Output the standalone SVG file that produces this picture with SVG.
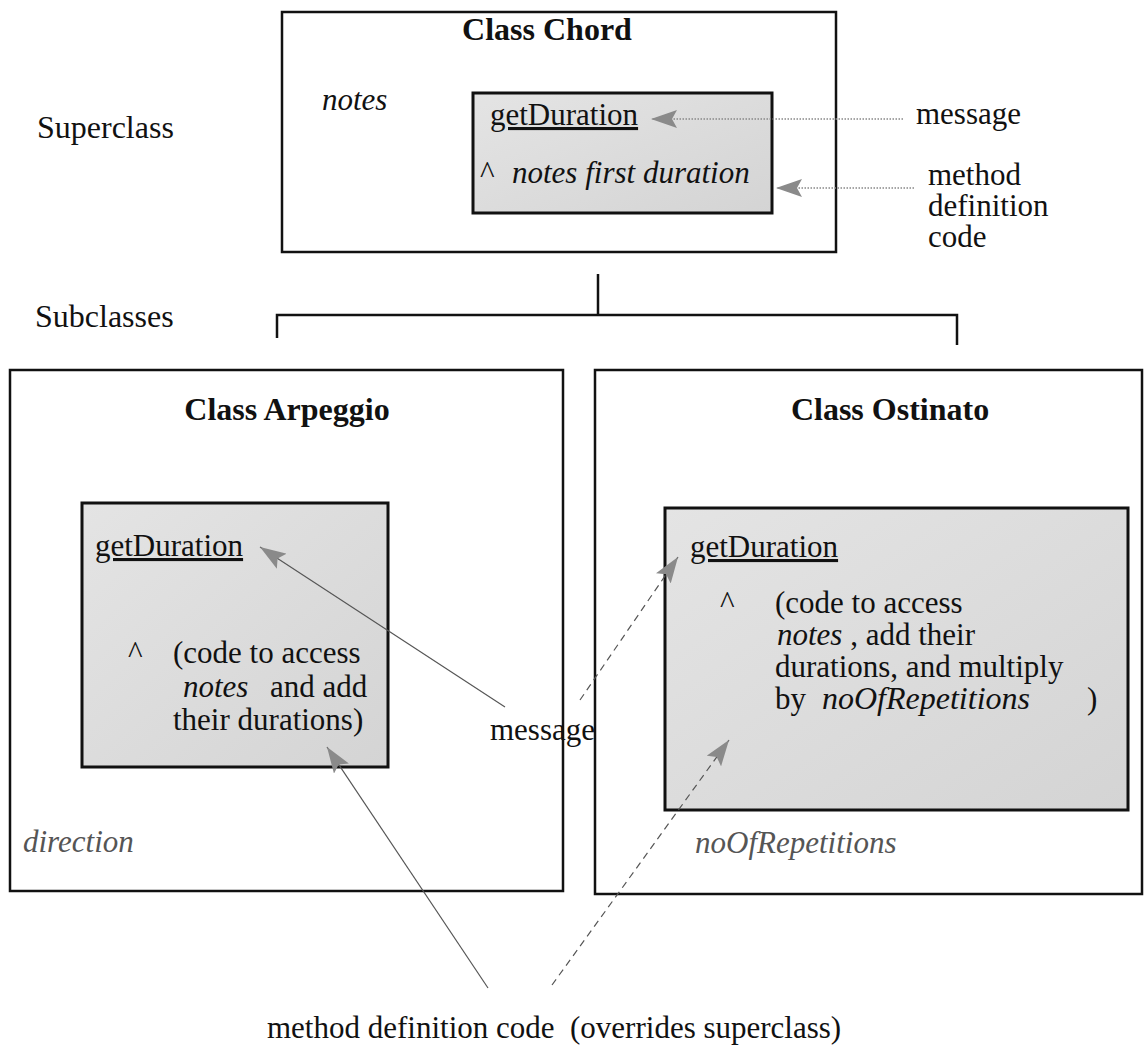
<svg xmlns="http://www.w3.org/2000/svg" width="1147" height="1046" viewBox="0 0 1147 1046">
  <style>
    text { font-family: "Liberation Serif", "Times New Roman", serif; fill: #111; }
    .title { font-size: 32px; font-weight: bold; }
    .body { font-size: 31px; }
    .side { font-size: 32px; }
    .it { font-style: italic; }
    .ul { text-decoration: underline; }
    .faint { font-style: italic; fill: #555; font-size: 31px; }
    .outer { fill: #fff; stroke: #111; stroke-width: 2.5; }
    .inner { fill: url(#shade); stroke: #111; stroke-width: 3; }
    .tree { fill: none; stroke: #111; stroke-width: 2.5; }
    .dot { stroke: #888; stroke-width: 1.3; stroke-dasharray: 1.5 1.5; fill: none; }
    .solid { stroke: #555; stroke-width: 1.2; fill: none; }
    .dash { stroke: #555; stroke-width: 1.2; stroke-dasharray: 7 5; fill: none; }
  </style>
  <defs>
    <linearGradient id="shade" x1="0" y1="0" x2="1" y2="1">
      <stop offset="0" stop-color="#e4e4e4"/>
      <stop offset="1" stop-color="#d4d4d4"/>
    </linearGradient>
    <marker id="head" viewBox="0 0 26 18" refX="26" refY="9" markerWidth="26" markerHeight="18" markerUnits="userSpaceOnUse" orient="auto">
      <path d="M0,0 L26,9 L0,18 L5,9 z" fill="#8a8a8a"/>
    </marker>
  </defs>

  <rect width="1147" height="1046" fill="#fff"/>

  <g id="chord">
    <rect class="outer" x="282" y="12" width="554" height="240"/>
    <text class="title" x="547" y="40" text-anchor="middle">Class Chord</text>
    <text class="body it" x="322" y="110">notes</text>
    <g id="chord-method">
      <rect class="inner" x="473" y="93" width="299" height="120"/>
      <text class="body ul" x="490" y="125">getDuration</text>
      <text class="body" x="480" y="183">^</text>
      <text class="body it" x="512" y="183">notes first duration</text>
    </g>
  </g>

  <g id="hierarchy">
    <path class="tree" d="M598,274 V316"/>
    <path class="tree" d="M277,338 V315 H957 V345"/>
  </g>

  <g id="arpeggio">
    <rect class="outer" x="10" y="370" width="553" height="521"/>
    <text class="title" x="287" y="420" text-anchor="middle">Class Arpeggio</text>
    <g id="arpeggio-method">
      <rect class="inner" x="82" y="503" width="306" height="264"/>
      <text class="body ul" x="95" y="556">getDuration</text>
      <text class="body" x="128" y="663">^</text>
      <text class="body" xml:space="preserve"><tspan x="173" y="663">(code to access</tspan><tspan x="183" y="697" class="it">notes</tspan><tspan x="270" y="697">and add</tspan><tspan x="173" y="730">their durations)</tspan></text>
    </g>
    <text class="faint" x="23" y="852">direction</text>
  </g>

  <g id="ostinato">
    <rect class="outer" x="595" y="370" width="547" height="524"/>
    <text class="title" x="890" y="420" text-anchor="middle">Class Ostinato</text>
    <g id="ostinato-method">
      <rect class="inner" x="665" y="508" width="463" height="302"/>
      <text class="body ul" x="690" y="557">getDuration</text>
      <text class="body" x="720" y="613">^</text>
      <text class="body" xml:space="preserve"><tspan x="775" y="613">(code to access</tspan><tspan x="777" y="645" class="it">notes</tspan><tspan> , add their</tspan><tspan x="775" y="677">durations, and multiply</tspan><tspan x="775" y="709">by</tspan><tspan x="822" y="709" class="it" font-size="32">noOfRepetitions</tspan><tspan x="1087" y="709">)</tspan></text>
    </g>
    <text class="faint" x="695" y="853">noOfRepetitions</text>
  </g>

  <g id="labels">
    <text class="side" x="37" y="138">Superclass</text>
    <text class="side" x="35" y="327">Subclasses</text>
    <text class="body" x="916" y="124">message</text>
    <text class="body"><tspan x="928" y="185">method</tspan><tspan x="928" y="216">definition</tspan><tspan x="928" y="247">code</tspan></text>
    <text class="body" x="490" y="740">message</text>
    <text class="body" x="267" y="1038" xml:space="preserve">method definition code  (overrides superclass)</text>
  </g>

  <g id="connectors">
    <line class="dot" x1="903" y1="119" x2="651" y2="119" marker-end="url(#head)"/>
    <line class="dot" x1="914" y1="188" x2="776" y2="188" marker-end="url(#head)"/>
    <line class="solid" x1="505" y1="707" x2="260" y2="547" marker-end="url(#head)"/>
    <line class="dash" x1="580" y1="700" x2="678" y2="557" marker-end="url(#head)"/>
    <line class="solid" x1="488" y1="988" x2="327" y2="747" marker-end="url(#head)"/>
    <line class="dash" x1="552" y1="985" x2="729" y2="740" marker-end="url(#head)"/>
  </g>
</svg>
